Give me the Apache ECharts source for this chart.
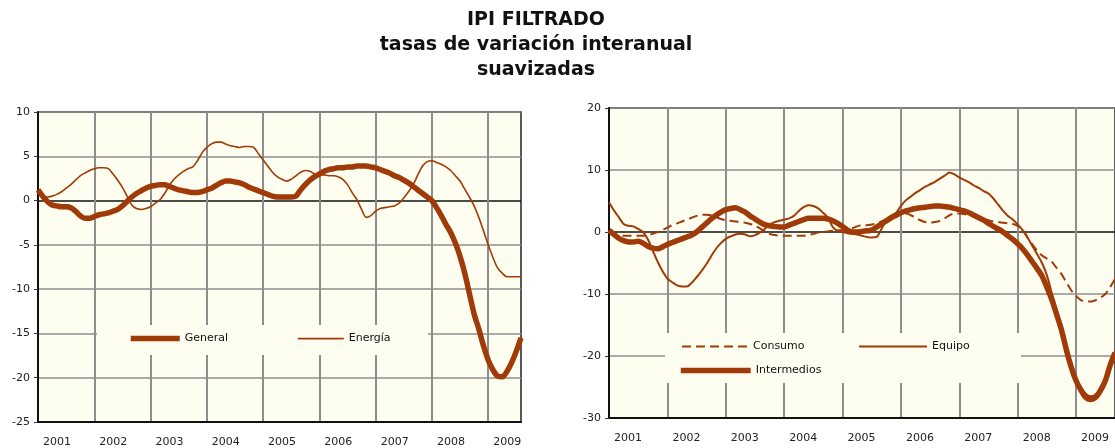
<!DOCTYPE html>
<html>
<head>
<meta charset="utf-8">
<script src="https://cdn.jsdelivr.net/npm/echarts@6.0.0/dist/echarts.min.js"></script>
<style>
  html, body { margin: 0; padding: 0; background: #ffffff; }
  #chart { width: 1115px; height: 448px; }
</style>
</head>
<body>
<div id="chart"></div>
<script>
// meses (enero 2001 en adelante)
function monthLabels(n) {
    var out = [];
    for (var i = 0; i < n; i++) {
        var m = i % 12 + 1;
        out.push((2001 + Math.floor(i / 12)) + '-' + (m < 10 ? '0' : '') + m);
    }
    return out;
}
var monthsLeft = monthLabels(104);   // ene 2001 - ago 2009
var monthsRight = monthLabels(105);  // ene 2001 - sep 2009

// panel izquierdo
var general = [
    1.2, 0.5, -0.1, -0.5, -0.6, -0.7, -0.7, -0.8, -1.2, -1.7,
    -2.0, -2.0, -1.8, -1.6, -1.5, -1.4, -1.2, -1.0, -0.6, -0.1,
    0.4, 0.8, 1.1, 1.4, 1.6, 1.7, 1.8, 1.8, 1.6, 1.4,
    1.2, 1.1, 1.0, 0.9, 0.9, 1.0, 1.2, 1.4, 1.7, 2.0,
    2.2, 2.2, 2.1, 2.0, 1.8, 1.5, 1.3, 1.1, 0.9, 0.7,
    0.5, 0.4, 0.4, 0.4, 0.4, 0.5, 1.2, 1.8, 2.3, 2.7,
    3.0, 3.3, 3.5, 3.6, 3.7, 3.7, 3.8, 3.8, 3.9, 3.9,
    3.9, 3.8, 3.7, 3.5, 3.3, 3.1, 2.8, 2.6, 2.3, 2.0,
    1.6, 1.2, 0.8, 0.4, 0.0, -0.8, -1.7, -2.7, -3.6, -4.8,
    -6.3, -8.2, -10.5, -12.8, -14.5, -16.4, -18.0, -19.1, -19.8, -19.9,
    -19.3, -18.3, -17.0, -15.5
];
var energia = [
    1.0, 0.5, 0.4, 0.5, 0.7, 1.0, 1.4, 1.8, 2.3, 2.8,
    3.1, 3.4, 3.6, 3.7, 3.7, 3.6, 3.0, 2.3, 1.5, 0.5,
    -0.5, -0.9, -1.0, -0.9, -0.7, -0.3, 0.1, 0.8, 1.7, 2.4,
    2.9, 3.3, 3.6, 3.8, 4.5, 5.4, 6.0, 6.4, 6.6, 6.6,
    6.4, 6.2, 6.1, 6.0, 6.1, 6.1, 6.0, 5.3, 4.6, 3.9,
    3.2, 2.7, 2.4, 2.2, 2.4, 2.8, 3.2, 3.4, 3.3, 3.0,
    2.9, 2.9, 2.8, 2.8, 2.7, 2.4, 1.8, 0.9, 0.1, -1.0,
    -1.9, -1.7, -1.2, -0.9, -0.8, -0.7, -0.6, -0.3, 0.3, 1.0,
    1.8, 2.9, 3.9, 4.4, 4.5, 4.3, 4.1, 3.8, 3.4, 2.8,
    2.2, 1.3, 0.4, -0.6, -1.9, -3.4, -5.0, -6.4, -7.6, -8.2,
    -8.6, -8.6, -8.6, -8.6
];

// panel derecho
var consumo = [
    0.0, -0.3, -0.5, -0.6, -0.6, -0.6, -0.6, -0.6, -0.5, -0.3,
    0.0, 0.3, 0.7, 1.1, 1.4, 1.7, 2.0, 2.3, 2.6, 2.8,
    2.8, 2.7, 2.4, 2.1, 1.9, 1.8, 1.7, 1.6, 1.5, 1.3,
    1.0, 0.6, 0.1, -0.3, -0.5, -0.6, -0.6, -0.6, -0.6, -0.6,
    -0.6, -0.5, -0.3, -0.1, 0.0, 0.1, 0.2, 0.3, 0.3, 0.4,
    0.6, 0.9, 1.1, 1.1, 1.2, 1.4, 1.7, 2.0, 2.4, 2.7,
    3.0, 3.0, 2.7, 2.3, 1.9, 1.6, 1.5, 1.6, 1.8, 2.2,
    2.7, 3.0, 3.0, 2.9, 2.7, 2.5, 2.3, 2.1, 1.9, 1.7,
    1.6, 1.5, 1.4, 1.3, 1.0, 0.4, -0.8, -2.0, -3.0, -3.8,
    -4.3, -4.8, -5.8, -6.8, -8.1, -9.4, -10.3, -11.0, -11.2, -11.2,
    -11.0, -10.6, -10.0, -8.9, -7.6
];
var equipo = [
    4.8, 3.5, 2.4, 1.3, 1.0, 0.9, 0.5, 0.0, -1.2, -3.0,
    -4.8, -6.3, -7.5, -8.1, -8.6, -8.8, -8.8, -8.2, -7.3, -6.3,
    -5.2, -3.9, -2.7, -1.8, -1.1, -0.7, -0.4, -0.3, -0.4, -0.7,
    -0.5, -0.1, 0.5, 1.2, 1.6, 1.8, 2.0, 2.2, 2.6, 3.4,
    4.0, 4.3, 4.2, 3.8, 3.1, 2.3, 0.8, 0.2, 0.0, -0.2,
    -0.3, -0.4, -0.6, -0.8, -0.9, -0.8, 0.5, 1.9, 2.6, 3.1,
    4.2, 5.1, 5.7, 6.3, 6.8, 7.3, 7.7, 8.1, 8.6, 9.1,
    9.6, 9.3, 8.8, 8.4, 8.0, 7.5, 7.1, 6.6, 6.2, 5.4,
    4.4, 3.4, 2.6, 2.0, 1.2, 0.3, -0.9, -2.2, -3.6, -5.0,
    -7.0, -9.8, -12.5, -15.3, -18.5, -21.3, -23.6, -25.0, -26.1, -26.5,
    -26.2, -25.2, -23.6, -21.2, -19.2
];
var intermedios = [
    0.3, -0.4, -1.0, -1.4, -1.6, -1.6, -1.5, -1.8, -2.3, -2.6,
    -2.7, -2.4, -2.0, -1.7, -1.4, -1.1, -0.8, -0.5, 0.0, 0.7,
    1.4, 2.1, 2.7, 3.2, 3.6, 3.8, 3.9, 3.6, 3.2, 2.6,
    2.1, 1.6, 1.2, 1.0, 0.9, 0.8, 0.8, 1.1, 1.4, 1.7,
    2.0, 2.2, 2.2, 2.2, 2.2, 2.1, 1.8, 1.4, 0.9, 0.3,
    0.0, 0.0, 0.1, 0.2, 0.3, 0.8, 1.3, 1.8, 2.3, 2.7,
    3.1, 3.4, 3.6, 3.8, 3.9, 4.0, 4.1, 4.2, 4.2, 4.1,
    4.0, 3.8, 3.6, 3.4, 3.1, 2.7, 2.3, 1.9, 1.4, 0.9,
    0.5, 0.0, -0.6, -1.2, -1.9, -2.7, -3.7, -4.8, -5.9, -7.1,
    -8.9, -10.9, -13.3, -15.8, -19.0, -21.8, -24.0, -25.5, -26.7, -27.0,
    -26.7, -25.6, -24.0, -21.5, -19.5
];

var FONT = 'DejaVu Sans';
var LINE = '#a03a08';
var PLOT_BG = '#fefef0';
var GRID_GRAY = '#8e8e8e';

var myChart = echarts.init(document.getElementById('chart'));

function yearOnly(i) { return i % 12 === 0; }

function xAxisFor(gridIndex, months) {
    return {
        type: 'category',
        gridIndex: gridIndex,
        data: months,
        boundaryGap: false,
        axisLine: { show: true, onZero: false, lineStyle: { color: '#111', width: 2 } },
        axisTick: { show: false, interval: yearOnly },
        axisLabel: {
            interval: yearOnly,
            align: 'left',
            padding: [0, 0, 0, 5],
            margin: 15,
            fontFamily: FONT,
            fontSize: 11,
            color: '#222',
            formatter: function (v) { return v.slice(0, 4); }
        },
        splitLine: { show: true, interval: yearOnly, lineStyle: { color: GRID_GRAY, width: 2 } }
    };
}

function yAxisFor(gridIndex, min, max, step, zeroIdx, count) {
    // la linea del cero va en negro
    var colors = [];
    for (var i = 0; i < count; i++) colors.push(i === zeroIdx ? '#111' : GRID_GRAY);
    return {
        type: 'value',
        gridIndex: gridIndex,
        min: min,
        max: max,
        interval: step,
        axisLine: { show: true, lineStyle: { color: '#111', width: 2 } },
        axisTick: { show: true, length: 4, lineStyle: { color: '#333' } },
        axisLabel: { margin: 8, fontFamily: FONT, fontSize: 11, color: '#222' },
        splitLine: { show: true, lineStyle: { color: colors, width: 1.6 } }
    };
}

function legendFor(name, left, top, w, lw) {
    return {
        data: [name],
        left: left,
        top: top,
        padding: 0,
        itemWidth: w,
        itemHeight: 14,
        selectedMode: false,
        z: 10,
        itemStyle: { opacity: 0 },   // sin simbolo, solo la linea
        lineStyle: { width: lw },
        textStyle: { fontFamily: FONT, fontSize: 11, color: '#111' }
    };
}

var option = {
    animation: false,
    backgroundColor: '#ffffff',
    title: {
        text: 'IPI FILTRADO\ntasas de variación interanual\nsuavizadas',
        left: 531,
        top: 3,
        textAlign: 'center',
        textStyle: { fontFamily: FONT, fontWeight: 'bold', fontSize: 19, lineHeight: 25, color: '#111' }
    },
    grid: [
        { left: 38, top: 112, width: 483, height: 310, show: true, backgroundColor: PLOT_BG, borderColor: '#222', borderWidth: 1.5 },
        { left: 609, top: 108, width: 508, height: 310, show: true, backgroundColor: PLOT_BG, borderColor: '#222', borderWidth: 1.5 }
    ],
    xAxis: [xAxisFor(0, monthsLeft), xAxisFor(1, monthsRight)],
    yAxis: [
        yAxisFor(0, -25, 10, 5, 5, 8),
        yAxisFor(1, -30, 20, 10, 3, 6)
    ],
    legend: [
        legendFor('General', 128, 333, 49, 5.5),
        legendFor('Energía', 297, 333, 46, 1.6),
        legendFor('Consumo', 681, 341, 66, 2),
        legendFor('Equipo', 858, 341, 68, 2),
        legendFor('Intermedios', 678, 365, 70, 5.5)
    ],
    // cajas de la leyenda que tapan la rejilla
    graphic: [
        { type: 'rect', z: 5, silent: true, shape: { x: 97, y: 325, width: 331, height: 30 }, style: { fill: PLOT_BG } },
        { type: 'rect', z: 5, silent: true, shape: { x: 665, y: 333, width: 356, height: 50 }, style: { fill: PLOT_BG } }
    ],
    series: [
        { name: 'Energía', type: 'line', xAxisIndex: 0, yAxisIndex: 0, data: energia, symbol: 'none', smooth: 0.3,
          lineStyle: { color: LINE, width: 1.6 }, itemStyle: { color: LINE } },
        { name: 'General', type: 'line', xAxisIndex: 0, yAxisIndex: 0, data: general, symbol: 'none', smooth: 0.3,
          lineStyle: { color: LINE, width: 5.5 }, itemStyle: { color: LINE } },
        { name: 'Consumo', type: 'line', xAxisIndex: 1, yAxisIndex: 1, data: consumo, symbol: 'none', smooth: 0.3,
          lineStyle: { color: LINE, width: 2, type: [9, 5] }, itemStyle: { color: LINE } },
        { name: 'Equipo', type: 'line', xAxisIndex: 1, yAxisIndex: 1, data: equipo, symbol: 'none', smooth: 0.3,
          lineStyle: { color: LINE, width: 2 }, itemStyle: { color: LINE } },
        { name: 'Intermedios', type: 'line', xAxisIndex: 1, yAxisIndex: 1, data: intermedios, symbol: 'none', smooth: 0.3,
          lineStyle: { color: LINE, width: 5.5 }, itemStyle: { color: LINE } }
    ]
};

myChart.setOption(option);
</script>
</body>
</html>
